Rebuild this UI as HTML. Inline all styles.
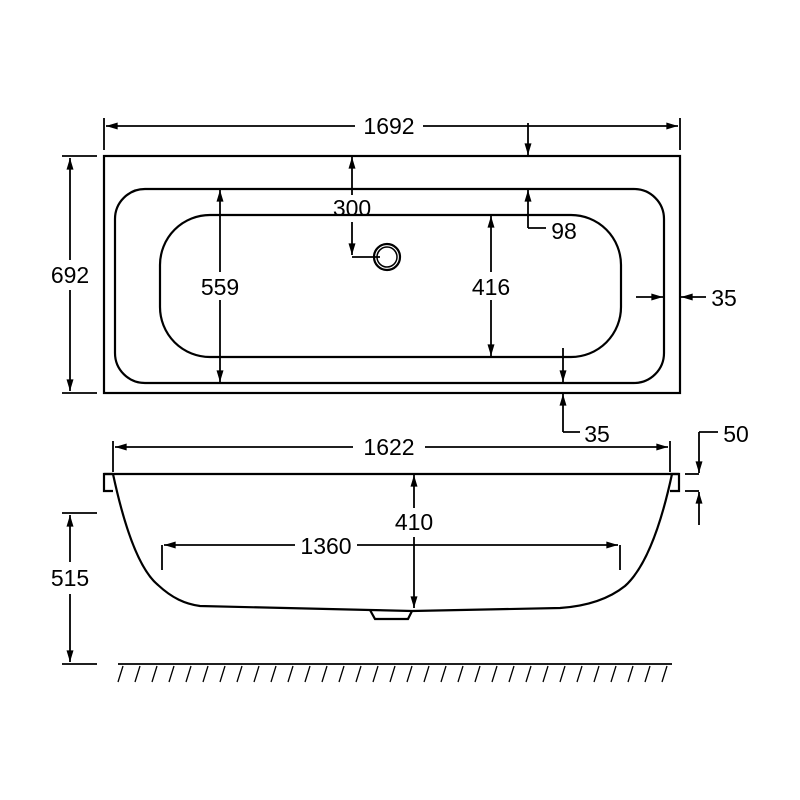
<!DOCTYPE html>
<html><head><style>body{margin:0;background:#fff}svg{display:block}text{font-family:"Liberation Sans",sans-serif;font-size:23px;fill:#000;text-anchor:middle}</style></head>
<body>
<svg width="800" height="800" viewBox="0 0 800 800" xmlns="http://www.w3.org/2000/svg">
<defs><marker id="a" viewBox="0 0 10 6" refX="10" refY="3" markerWidth="16" markerHeight="7" markerUnits="userSpaceOnUse" orient="auto-start-reverse"><path d="M0,0L10,3L0,6z" fill="#000"/></marker></defs>
<g fill="none" stroke="#000" stroke-width="2.2">
<rect x="104" y="156" width="576" height="237"/>
<rect x="115" y="189" width="549" height="194" rx="30"/>
<rect x="160" y="215" width="461" height="142" rx="50"/>
<circle cx="387" cy="257" r="13"/><circle cx="387" cy="257" r="10" stroke-width="1.5"/>
</g>
<g stroke="#000" stroke-width="1.8" fill="none">
<line x1="104" y1="118" x2="104" y2="150"/><line x1="680" y1="118" x2="680" y2="150"/>
<line x1="106" y1="126" x2="355" y2="126" marker-start="url(#a)"/><line x1="423" y1="126" x2="678" y2="126" marker-end="url(#a)"/>
<line x1="528" y1="123" x2="528" y2="155" marker-end="url(#a)"/>
<path d="M528,228V190" marker-end="url(#a)"/><path d="M528,228H546"/>
<line x1="352" y1="195" x2="352" y2="157" marker-end="url(#a)"/>
<path d="M352,222V255" marker-end="url(#a)"/><path d="M352,257H380"/>
<line x1="220" y1="190" x2="220" y2="272" marker-start="url(#a)"/><line x1="220" y1="300" x2="220" y2="382" marker-end="url(#a)"/>
<line x1="491" y1="216" x2="491" y2="272" marker-start="url(#a)"/><line x1="491" y1="300" x2="491" y2="356" marker-end="url(#a)"/>
<line x1="636" y1="297" x2="663" y2="297" marker-end="url(#a)"/><line x1="706" y1="297" x2="681" y2="297" marker-end="url(#a)"/>
<line x1="563" y1="348" x2="563" y2="382" marker-end="url(#a)"/>
<path d="M563,432V394" marker-end="url(#a)"/><path d="M563,432H580"/>
<line x1="62" y1="156" x2="97" y2="156"/><line x1="62" y1="393" x2="97" y2="393"/>
<line x1="70" y1="158" x2="70" y2="260" marker-start="url(#a)"/><line x1="70" y1="290" x2="70" y2="391" marker-end="url(#a)"/>
<line x1="113" y1="441" x2="113" y2="472"/><line x1="670" y1="441" x2="670" y2="472"/>
<line x1="115" y1="447" x2="353" y2="447" marker-start="url(#a)"/><line x1="425" y1="447" x2="668" y2="447" marker-end="url(#a)"/>
<line x1="414" y1="475" x2="414" y2="508" marker-start="url(#a)"/><line x1="414" y1="537" x2="414" y2="608" marker-end="url(#a)"/>
<line x1="162" y1="545" x2="162" y2="570"/><line x1="620" y1="545" x2="620" y2="570"/>
<line x1="164" y1="545" x2="295" y2="545" marker-start="url(#a)"/><line x1="357" y1="545" x2="618" y2="545" marker-end="url(#a)"/>
<line x1="62" y1="513" x2="97" y2="513"/><line x1="62" y1="664" x2="97" y2="664"/>
<line x1="70" y1="515" x2="70" y2="562" marker-start="url(#a)"/><line x1="70" y1="594" x2="70" y2="662" marker-end="url(#a)"/>
<path d="M685,474H699"/><path d="M685,491H699"/>
<path d="M699,432H718"/><line x1="699" y1="432" x2="699" y2="473" marker-end="url(#a)"/>
<line x1="699" y1="525" x2="699" y2="492" marker-end="url(#a)"/>
</g>
<g fill="none" stroke="#000" stroke-width="2.2">
<path d="M104,474H679"/>
<path d="M113,474H104V491H113"/><path d="M670,474H679V491H670"/>
<path d="M113,474C125,530 140,570 158,585C172,598 185,604 200,606L370,610L412,611L560,608C590,606 610,598 625,586C645,568 660,530 672,474"/>
<path d="M370,610L375,619H408L412,611"/>
<path d="M118,664H672" stroke-width="1.8"/>
</g>
<g stroke="#000" stroke-width="1.3">
<path d="M118,682L123,666M135,682L140,666M152,682L157,666M169,682L174,666M186,682L191,666M203,682L208,666M220,682L225,666M237,682L242,666M254,682L259,666M271,682L276,666M288,682L293,666M305,682L310,666M322,682L327,666M339,682L344,666M356,682L361,666M373,682L378,666M390,682L395,666M407,682L412,666M424,682L429,666M441,682L446,666M458,682L463,666M475,682L480,666M492,682L497,666M509,682L514,666M526,682L531,666M543,682L548,666M560,682L565,666M577,682L582,666M594,682L599,666M611,682L616,666M628,682L633,666M645,682L650,666M662,682L667,666"/>
</g>
<text x="389" y="134">1692</text>
<text x="352" y="216">300</text>
<text x="564" y="239">98</text>
<text x="220" y="295">559</text>
<text x="491" y="295">416</text>
<text x="724" y="306">35</text>
<text x="597" y="442">35</text>
<text x="70" y="283">692</text>
<text x="389" y="455">1622</text>
<text x="414" y="530">410</text>
<text x="326" y="554">1360</text>
<text x="70" y="586">515</text>
<text x="736" y="442">50</text>
</svg>
</body></html>
